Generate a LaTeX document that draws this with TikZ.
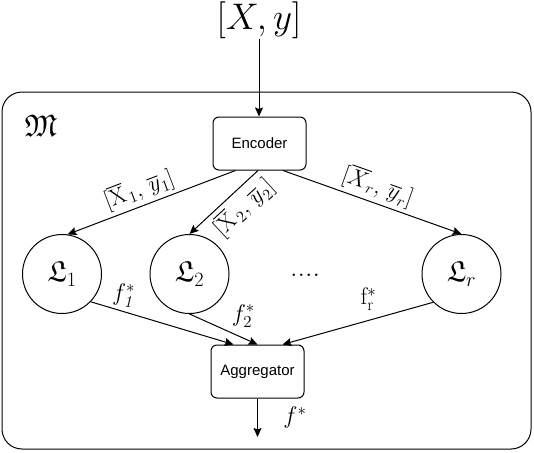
\RequirePackage{fix-cm}
\documentclass[tikz,border=0pt]{standalone}
\usepackage{amsmath,amssymb}
\DeclareFontFamily{U}{euf}{}
\DeclareFontShape{U}{euf}{m}{n}{<-6>eufm5<6-8>eufm7<8->eufm10}{}
\usepackage{fontspec}
\newfontfamily\helv{Liberation Sans}
\usetikzlibrary{arrows.meta,calc}
\begin{document}
\begin{tikzpicture}[x=1pt,y=-1pt,
  every node/.style={inner sep=0pt},
  arr/.style={-{Stealth[length=9pt,width=8pt,inset=1.5pt]}, line width=1pt},
  box/.style={draw, line width=1pt, rounded corners=6pt, minimum width=93pt, minimum height=53pt, font=\helv\fontsize{15}{18}\selectfont},
  learner/.style={draw, circle, line width=1pt, minimum size=79pt, font=\fontsize{29}{33}\selectfont},
  elab/.style={font=\fontsize{23}{26}\selectfont, sloped, inner sep=3.5pt},
  flab/.style={font=\fontsize{24}{28}\selectfont, anchor=center},
]
\useasboundingbox (0,0) rectangle (534,452);
\node[draw, line width=1pt, rounded corners=20pt, minimum width=529pt, minimum height=357pt] (M) at (266.5,270.5) {};
\node (Mlab) at (41,126) {\fontsize{31}{36}\selectfont $\mathfrak{M}$};
\node (in) at (259,20.5) {\fontsize{37}{42}\selectfont $[X, y]$};
\node[box] (enc) at (259.5,143.5) {Encoder};
\node[learner] (L1) at (62,274) {$\mathfrak{L}_1$};
\node[learner] (L2) at (189.5,274) {$\mathfrak{L}_2$};
\node[learner] (Lr) at (461.5,274) {$\mathfrak{L}_r$};
\node[font=\fontsize{30}{34}\selectfont] (dots) at (305,275) {....};
\node[box] (agg) at (257.5,371.5) {Aggregator};
\coordinate (out) at (257.5,437);

\draw[arr] (in.south) -- (in.south |- enc.north);
\draw[arr] ([xshift=-24pt]enc.south) -- node[elab, above, pos=0.54] {$[\overline{\mathrm{X}}_{\,1},\,\overline{y}_1]$} (L1.82);
\draw[arr] ([xshift=-1.5pt]enc.south) -- node[elab, below, pos=0.38] {$[\overline{\mathrm{X}}_{\,2},\,\overline{y}_2]$} (L2.90);
\draw[arr] ([xshift=23.5pt]enc.south) -- node[elab, above, pos=0.5] {$[\overline{X}_r,\,\overline{y}_r]$} (Lr.90);

\draw[arr] (L1.-44) -- node[flab, pos=0.23, yshift=16pt] {$f^*_{\mathit{1}}$} ([xshift=-24pt]agg.north);
\draw[arr] (L2.-90) -- node[flab, pos=0.6, xshift=13pt, yshift=16pt] {$f^*_{2}$} (agg.north);
\draw[arr] (Lr.-135) -- node[flab, pos=0.43, yshift=21pt] {$\mathrm{f}^*_{\mathrm{r}}$} ([xshift=25pt]agg.north);
\draw[arr] (agg.south) -- node[flab, xshift=37.5pt] {$f^*$} (out);
\end{tikzpicture}
\end{document}
